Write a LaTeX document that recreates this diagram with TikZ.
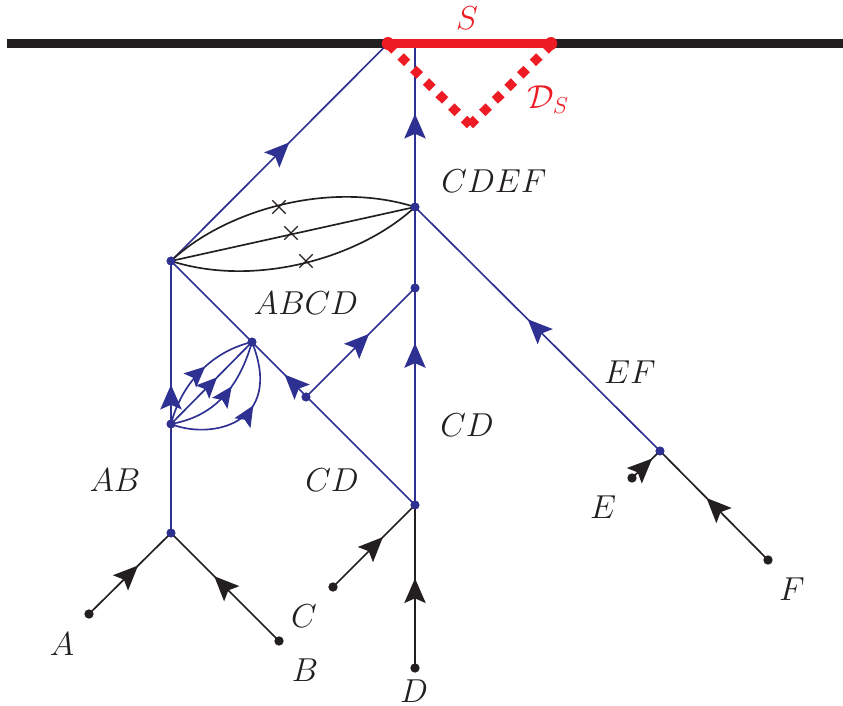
\documentclass[tikz,border=0pt]{standalone}
\usetikzlibrary{arrows.meta,decorations.markings,shapes.misc}
\definecolor{ink}{HTML}{231F20}
\definecolor{bl}{HTML}{2E3192}
\definecolor{rd}{HTML}{ED1C24}
\tikzset{
  x=0.75pt,y=-0.75pt,
  bdot/.style={circle,fill=bl,draw=none,minimum size=6.6pt,inner sep=0pt},
  kdot/.style={circle,fill=ink,draw=none,minimum size=7pt,inner sep=0pt},
  rdot/.style={circle,fill=rd,draw=none,minimum size=9.5pt,inner sep=0pt},
  bline/.style={draw=bl,line width=1.25pt},
  kline/.style={draw=ink,line width=1.25pt},
  tip/.style={postaction={decorate},decoration={markings,mark=at position #1 with {\arrow{Stealth[length=18.5pt,width=16pt,inset=3.5pt]}}}},
  tips/.style={postaction={decorate},decoration={markings,mark=at position #1 with {\arrow{Stealth[length=15.5pt,width=14pt,inset=3pt]}}}},
  lab/.style={text=ink,inner sep=0pt,font=\fontsize{25}{30}\selectfont},
  rlab/.style={text=rd,inner sep=0pt,font=\fontsize{25}{30}\selectfont},
  xmark/.style={cross out,draw=ink,line width=1pt,minimum size=9pt,inner sep=0pt},
  rdots/.style={draw=rd,line width=6.8pt,dash pattern=on 6.8pt off 6.55pt},
}
\begin{document}
\begin{tikzpicture}
\useasboundingbox (0,0) rectangle (843,706);
% top boundary
\coordinate (bl) at (7,43.5); \coordinate (br) at (843,43.5);
\node[rdot] (s1) at (388,43.5) {};
\node[rdot] (s2) at (551,43.5) {};
\coordinate (apex) at (470,125);
\coordinate (t0) at (415,43.5);
% vertices
\node[bdot] (cdef) at (415,207) {};
\node[bdot] (abcd) at (171,261) {};
\node[bdot] (m) at (415,288) {};
\node[bdot] (p) at (252,342) {};
\node[bdot] (q) at (306,397) {};
\node[bdot] (ab2) at (171,424) {};
\node[bdot] (cd) at (415,505) {};
\node[bdot] (ab) at (171,533) {};
\node[bdot] (ef) at (660,451) {};
\node[kdot] (A) at (89,614) {};
\node[kdot] (B) at (279,641) {};
\node[kdot] (C) at (333,587) {};
\node[kdot] (D) at (415,668) {};
\node[kdot] (E) at (632,478) {};
\node[kdot] (F) at (768,560) {};
% boundary
\draw[draw=ink,line width=7.2pt] (bl) -- (br);
% blue lines
\draw[bline,tip=0.545] (abcd.center) -- (s1.center);
\draw[bline,tip=0.57] (cdef.center) -- (t0);
\draw[bline,tip=0.54] (ef.center) -- (cdef.center);
\draw[bline,tip=0.545] (ab.center) -- (abcd.center);
\draw[bline] (p.center) -- (abcd.center);
\draw[bline,tip=0.8] (cd.center) -- (p.center);
\draw[bline,tip=0.58] (q.center) -- (m.center);
\draw[bline] (m.center) -- (cdef.center);
\draw[bline,tip=0.746] (cd.center) -- (m.center);
% lens of blue propagators
\draw[bline,tips=0.56] (ab2.center) .. controls (181,385) and (210,352) .. (p.center);
\draw[bline,tips=0.57] (ab2.center) -- (p.center);
\draw[bline,tips=0.6] (ab2.center) .. controls (205,418) and (236,398) .. (p.center);
\draw[bline,tips=0.58] (ab2.center) .. controls (210,440) and (285,425) .. (p.center);
% black curves
\draw[kline] (abcd.center) .. controls (225,210) and (330,180) .. (cdef.center);
\draw[kline] (abcd.center) -- (cdef.center);
\draw[kline] (abcd.center) .. controls (255,288) and (360,258) .. (cdef.center);
\node[xmark] (x1) at (279,207) {};
\node[xmark] (x2) at (291,233) {};
\node[xmark] (x3) at (306,261) {};
% black legs
\draw[kline,tip=0.6] (A.center) -- (ab.center);
\draw[kline,tip=0.6] (B.center) -- (ab.center);
\draw[kline,tip=0.61] (C.center) -- (cd.center);
\draw[kline,tip=0.55] (D.center) -- (cd.center);
\draw[kline,tip=0.72] (E.center) -- (ef.center);
\draw[kline,tip=0.57] (F.center) -- (ef.center);
% redraw dots on top
\foreach \n in {cdef,abcd,m,p,q,ab2,cd,ab,ef} \fill[bl] (\n) circle (3.3pt);
% red
\draw[rdots] (s1.center) ++(0,0.5) -- (apex);
\draw[rdots] (s2.center) ++(1,0.5) -- (apex);
\draw[draw=rd,line width=7.2pt] (s1.center) -- (s2.center);
\fill[rd] (s1) circle (4.7pt) (s2) circle (4.7pt);
% labels
\node[rlab] (lS) at (467,18) {$S$};
\node[rlab] (lDS) at (548,100) {$\mathcal{D}_S$};
\node[lab] (l1) at (494,181) {$CDEF$};
\node[lab] (l2) at (306,303) {$ABCD$};
\node[lab] (l3) at (630,372) {$EF$};
\node[lab] (l4) at (467,425) {$CD$};
\node[lab] (l5) at (332,480) {$CD$};
\node[lab] (l6) at (115,480) {$AB$};
\node[lab] (lA) at (62,644) {$A$};
\node[lab] (lB) at (305,670) {$B$};
\node[lab] (lC) at (304,616) {$C$};
\node[lab] (lD) at (414,691) {$D$};
\node[lab] (lE) at (603,507) {$E$};
\node[lab] (lF) at (792,589) {$F$};
\end{tikzpicture}
\end{document}
